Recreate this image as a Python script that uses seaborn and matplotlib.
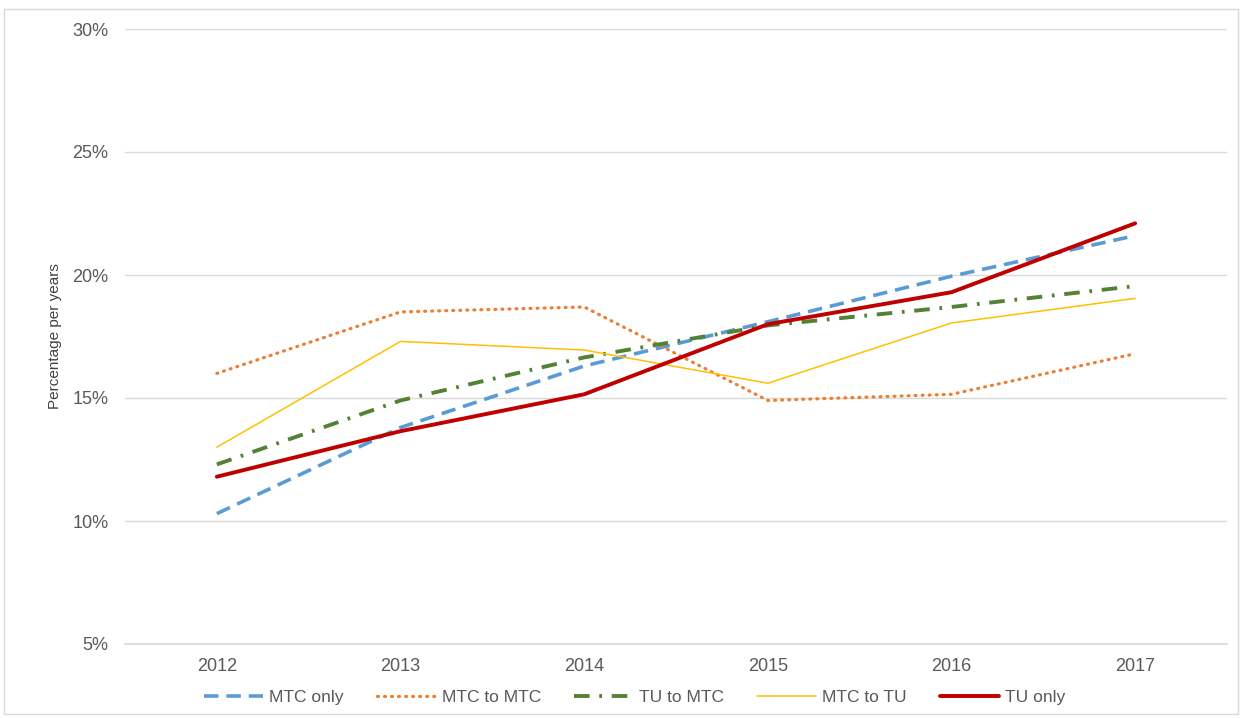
import matplotlib
matplotlib.use("Agg")
import matplotlib.pyplot as plt
import seaborn as sns
import pandas as pd
from matplotlib.patches import Rectangle
from matplotlib.ticker import FuncFormatter

years = ["2012", "2013", "2014", "2015", "2016", "2017"]
mtc_only = [10.3, 13.8, 16.3, 18.1, 19.95, 21.6]
mtc_to_mtc = [16.0, 18.5, 18.7, 14.9, 15.15, 16.8]
tu_to_mtc = [12.3, 14.9, 16.65, 17.95, 18.7, 19.55]
mtc_to_tu = [13.0, 17.3, 16.95, 15.6, 18.05, 19.05]
tu_only = [11.8, 13.65, 15.15, 18.0, 19.3, 22.1]

series_names = ["MTC only", "MTC to MTC", "TU to MTC", "MTC to TU", "TU only"]
series_values = [mtc_only, mtc_to_mtc, tu_to_mtc, mtc_to_tu, tu_only]

rows = []
for name, vals in zip(series_names, series_values):
    for i, (yr, v) in enumerate(zip(years, vals)):
        rows.append({"pos": i, "year": yr, "value": v, "series": name})
df = pd.DataFrame(rows)

sns.set_theme(style="white")
plt.rcParams['font.family'] = ['Liberation Sans', 'DejaVu Sans']

colors = {"MTC only": "#5B9BD5", "MTC to MTC": "#ED7D31", "TU to MTC": "#548235",
          "MTC to TU": "#FFC000", "TU only": "#C00000"}
styles = {"MTC only": dict(lw=2.6, dashes=(4, 2.2)),
          "MTC to MTC": dict(lw=2.3, dashes=(0.3, 1.9)),
          "TU to MTC": dict(lw=2.8, dashes=(4, 2.5, 0.7, 2.5)),
          "MTC to TU": dict(lw=1.1, dashes=None),
          "TU only": dict(lw=2.8, dashes=None)}

fig = plt.figure(figsize=(12.42, 7.18), dpi=100)
ax = fig.add_axes([125/1242, 1-644/718, (1227-125)/1242, (644-29)/718])

for name in series_names:
    sub = df[df["series"] == name]
    st = styles[name]
    sns.lineplot(data=sub, x="pos", y="value", ax=ax, color=colors[name],
                 linewidth=st["lw"], label=name, legend=False)
    ln = ax.get_lines()[-1]
    if st["dashes"] is not None:
        ln.set_dashes(st["dashes"])
    if name == "MTC to MTC":
        ln.set_dash_capstyle("round")

ax.set_xlim(-0.5, 5.5)
ax.set_ylim(5, 30)
ax.set_yticks([5, 10, 15, 20, 25, 30])
ax.yaxis.set_major_formatter(FuncFormatter(lambda v, p: f"{int(v)}%"))
ax.set_xticks(range(len(years)))
ax.set_xticklabels(years)
ax.grid(axis="y", color="#D9D9D9", linewidth=1)
ax.set_axisbelow(True)
for s in ["top", "right", "left"]:
    ax.spines[s].set_visible(False)
ax.spines["bottom"].set_color("#D9D9D9")
ax.tick_params(axis="both", length=0, labelsize=13, labelcolor="#595959")
ax.tick_params(axis="x", pad=10)
ax.tick_params(axis="y", pad=12)
ax.set_xlabel("")
ax.set_ylabel("Percentage per years", fontsize=11, color="#404040")
ax.yaxis.set_label_coords(-0.057, 0.5)

handles, labels = ax.get_legend_handles_labels()
leg = fig.legend(handles, labels, loc="center", bbox_to_anchor=(0.511, 1-697/718),
                 ncol=5, frameon=False, fontsize=12.5, handlelength=3.4,
                 columnspacing=1.9, handletextpad=0.35)
for t in leg.get_texts():
    t.set_color("#595959")

fig.patches.append(Rectangle((4/1242, 4/718), 1234/1242, 705/718, transform=fig.transFigure,
                             fill=False, edgecolor="#D9D9D9", linewidth=1))

fig.savefig("out.png", dpi=100, facecolor="white")
